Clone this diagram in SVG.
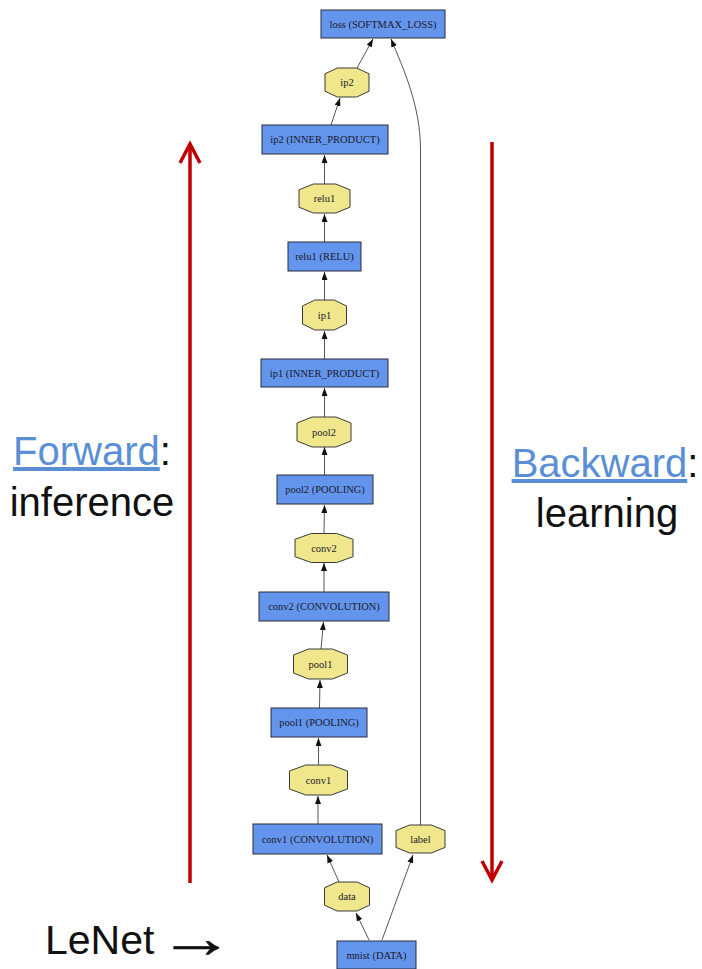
<svg xmlns="http://www.w3.org/2000/svg" width="702" height="969" viewBox="0 0 702 969">
<defs>
<style>
.blob{fill:#6495ED;stroke:#2a2a3a;stroke-width:1}
.oct{fill:#F0E68C;stroke:#3a3a3a;stroke-width:1}
.nt{font-family:"Liberation Serif","Times New Roman",serif;font-size:10.5px;fill:#1a1a2a;text-anchor:middle;dominant-baseline:central}
.edge{fill:none;stroke:#555;stroke-width:1;marker-end:url(#ah)}
.red{fill:none;stroke:#C00000;stroke-width:3.5}
.big{font-family:"Liberation Sans",Arial,sans-serif;font-size:40px;fill:#111;text-anchor:middle}
.link{fill:#5A8FD6;text-decoration:underline}
</style>
<marker id="ah" markerWidth="8" markerHeight="6" refX="8" refY="3" orient="auto" markerUnits="userSpaceOnUse">
<path d="M0,0 L8,3 L0,6 z" fill="#111"/>
</marker>
</defs>
<rect width="702" height="969" fill="#fff"/>

<g id="connectors">
<path class="edge" d="M357,68 L373,39"/>
<path class="edge" d="M331,125 L340,98"/>
<path class="edge" d="M324.5,184 L324.5,155"/>
<path class="edge" d="M324.5,242 L324.5,214"/>
<path class="edge" d="M324.5,300 L324.5,272"/>
<path class="edge" d="M324.5,359 L324.5,331"/>
<path class="edge" d="M324.5,417 L324.5,388"/>
<path class="edge" d="M324.5,475 L324.5,447"/>
<path class="edge" d="M324,533 L324.5,505"/>
<path class="edge" d="M324,592 L324,563"/>
<path class="edge" d="M321,649 L323.5,622"/>
<path class="edge" d="M319.5,708 L320,680"/>
<path class="edge" d="M318.5,765 L318.5,738"/>
<path class="edge" d="M318,824 L318,796"/>
<path class="edge" d="M339,882 L327,855"/>
<path class="edge" d="M369,940 L356,913"/>
<path class="edge" d="M382,940 L413,855"/>
<path class="edge" d="M420.5,825 L420.5,150 C420.5,105 403,68 391,39"/>
</g>

<g id="loss"><rect class="blob" x="321" y="10" width="124" height="28"/><text class="nt" x="383" y="24">loss (SOFTMAX_LOSS)</text></g>
<g id="ip2_blob"><polygon class="oct" points="337.3,68 356.7,68 369,73.8 369,91.2 356.7,97 337.3,97 325,91.2 325,73.8"/><text class="nt" x="347" y="82.5">ip2</text></g>
<g id="ip2"><rect class="blob" x="262" y="125" width="126" height="29"/><text class="nt" x="325" y="139.5">ip2 (INNER_PRODUCT)</text></g>
<g id="relu1_blob"><polygon class="oct" points="313.3,184 335.7,184 350,189.8 350,207.2 335.7,213 313.3,213 299,207.2 299,189.8"/><text class="nt" x="324.5" y="198.5">relu1</text></g>
<g id="relu1"><rect class="blob" x="288" y="242" width="73" height="29"/><text class="nt" x="324.5" y="256.5">relu1 (RELU)</text></g>
<g id="ip1_blob"><polygon class="oct" points="314.8,300 334.2,300 346.5,306 346.5,324 334.2,330 314.8,330 302.5,324 302.5,306"/><text class="nt" x="324.5" y="315">ip1</text></g>
<g id="ip1"><rect class="blob" x="261" y="359" width="127" height="28"/><text class="nt" x="324.5" y="373">ip1 (INNER_PRODUCT)</text></g>
<g id="pool2_blob"><polygon class="oct" points="312.1,417 335.9,417 351,423 351,441 335.9,447 312.1,447 297,441 297,423"/><text class="nt" x="324" y="432">pool2</text></g>
<g id="pool2"><rect class="blob" x="277" y="475" width="96" height="29"/><text class="nt" x="325" y="489.5">pool2 (POOLING)</text></g>
<g id="conv2_blob"><polygon class="oct" points="311.2,533.5 336.8,533.5 353,539.3 353,556.7 336.8,562.5 311.2,562.5 295,556.7 295,539.3"/><text class="nt" x="324" y="548">conv2</text></g>
<g id="conv2"><rect class="blob" x="259" y="592" width="130" height="29"/><text class="nt" x="324" y="606.5">conv2 (CONVOLUTION)</text></g>
<g id="pool1_blob"><polygon class="oct" points="308.6,649 332.4,649 347.5,655 347.5,673 332.4,679 308.6,679 293.5,673 293.5,655"/><text class="nt" x="320.5" y="664">pool1</text></g>
<g id="pool1"><rect class="blob" x="271" y="708" width="96" height="29"/><text class="nt" x="319" y="722.5">pool1 (POOLING)</text></g>
<g id="conv1_blob"><polygon class="oct" points="305.7,765 331.3,765 347.5,771 347.5,789 331.3,795 305.7,795 289.5,789 289.5,771"/><text class="nt" x="318.5" y="780">conv1</text></g>
<g id="conv1"><rect class="blob" x="253" y="824" width="129" height="30"/><text class="nt" x="317.5" y="839">conv1 (CONVOLUTION)</text></g>
<g id="label"><polygon class="oct" points="409.7,825 431.3,825 445,830.6 445,847.4 431.3,853 409.7,853 396,847.4 396,830.6"/><text class="nt" x="420.5" y="839">label</text></g>
<g id="data"><polygon class="oct" points="337.1,882 356.9,882 369.5,887.8 369.5,905.2 356.9,911 337.1,911 324.5,905.2 324.5,887.8"/><text class="nt" x="347" y="896.5">data</text></g>
<g id="mnist"><rect class="blob" x="337" y="941" width="79" height="28"/><text class="nt" x="376.5" y="955">mnist (DATA)</text></g>

<g id="forward-arrow">
<line class="red" x1="190" y1="883" x2="190" y2="145"/>
<polyline class="red" points="180,163 190,144 200,163" stroke-width="4"/>
</g>
<g id="backward-arrow">
<line class="red" x1="492" y1="142" x2="492" y2="879"/>
<polyline class="red" points="482,861 492,880 502,861" stroke-width="4"/>
</g>

<g id="forward-label">
<text class="big" x="92" y="465"><tspan class="link">Forward</tspan>:</text>
<text class="big" x="92" y="516">inference</text>
</g>
<g id="backward-label">
<text class="big" x="605" y="477"><tspan class="link">Backward</tspan>:</text>
<text class="big" x="607" y="527">learning</text>
</g>
<g id="lenet-label">
<text class="big" x="45" y="954" style="text-anchor:start;font-size:41px">LeNet</text>
<text class="big" x="158" y="957" textLength="76" lengthAdjust="spacingAndGlyphs" style="text-anchor:start;font-size:56px;stroke:#111;stroke-width:0.6">→</text>
</g>
</svg>
